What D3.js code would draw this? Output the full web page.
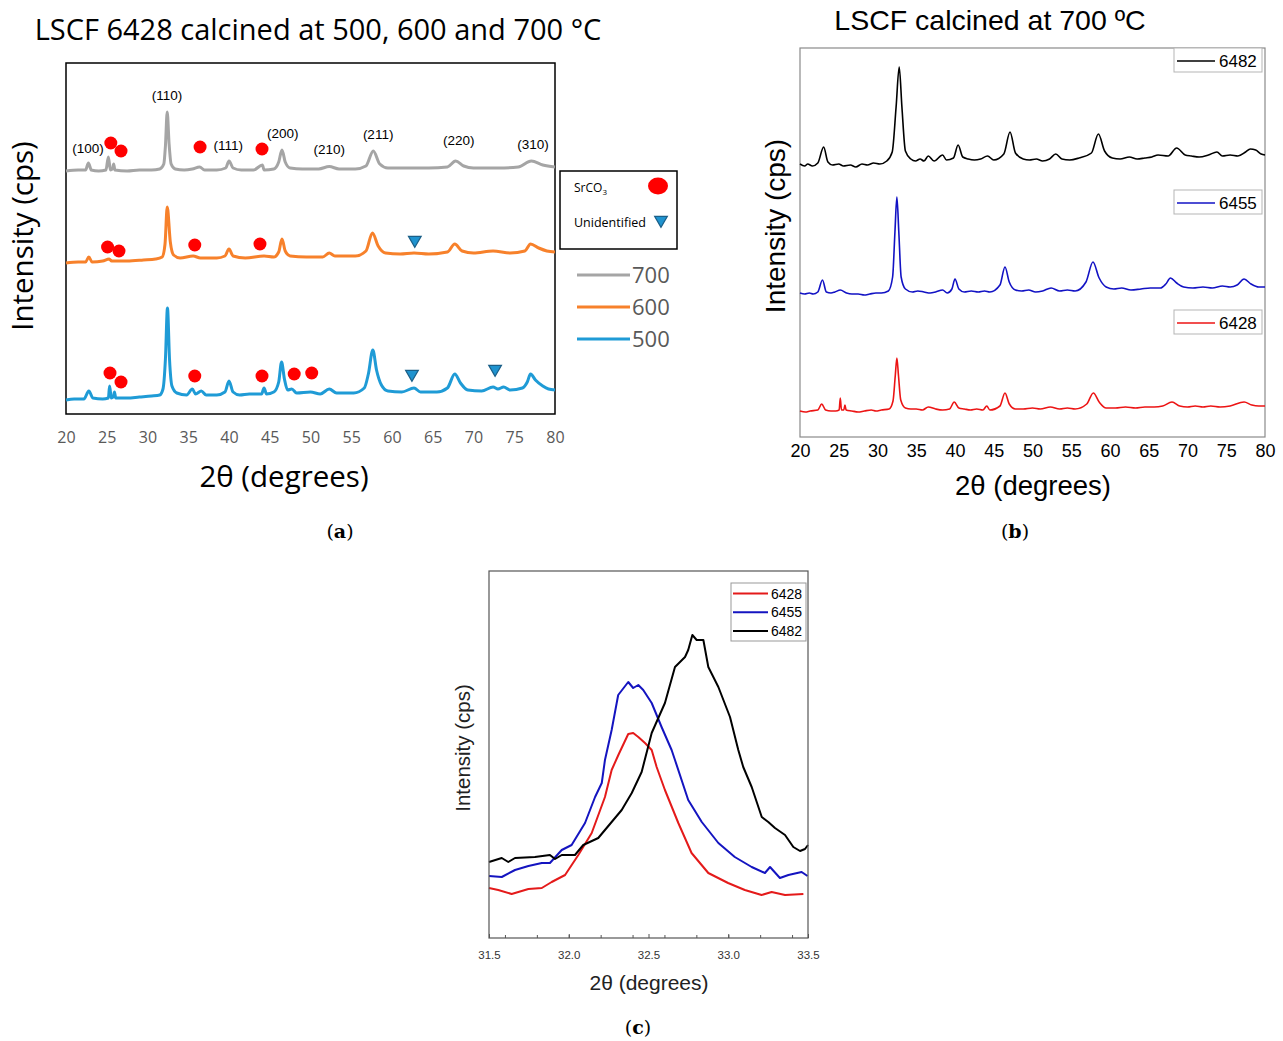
<!DOCTYPE html>
<html>
<head>
<meta charset="utf-8">
<script src="https://cdn.jsdelivr.net/npm/d3@7"></script>
<style>
body { margin: 0; background: #fff; }
</style>
</head>
<body>
<div id="chart"></div>
<script>
var width = 1283,
height = 1041;

// ---------- data, panel (a): LSCF 6428 at 500/600/700 C (2theta, intensity offset per trace)
var xTicksA = [20, 25, 30, 35, 40, 45, 50, 55, 60, 65, 70, 75, 80];
var tempLabels = ["700", "600", "500"];

var trace700 = [
	[20, 243], [21.5, 244], [22.4, 244], [22.75, 251], [23.1, 244], [24, 243], [24.9, 244], [25.2, 257], [25.45, 244],
	[25.7, 245], [25.85, 250], [26.0, 244], [27.5, 243], [29, 244], [30.5, 244], [31.5, 245], [32.0, 250], [32.2, 268],
	[32.42, 302], [32.65, 270], [32.9, 250], [33.4, 245], [34.5, 244], [35.5, 245], [36.4, 247], [37, 244], [38.5, 244],
	[39.6, 246], [40.0, 253], [40.5, 246], [41.5, 244], [43, 244], [44.1, 249], [44.3, 244], [45.5, 245], [46.1, 252],
	[46.5, 264], [46.9, 252], [47.5, 246], [49, 245], [51, 245], [52.3, 247.5], [53.5, 245], [55.5, 245], [56.8, 248],
	[57.7, 263], [58.5, 250], [59.5, 246], [62, 246], [64.5, 246], [66.8, 247], [67.8, 253], [68.8, 248], [70, 246],
	[73, 246], [75.5, 247], [77.1, 253], [78.5, 249], [80, 247]
];
var trace600 = [
	[20, 151], [21.5, 152], [22.4, 152], [22.8, 157], [23.2, 152], [24.5, 153], [25.3, 155], [25.6, 153], [27.5, 153],
	[29.5, 154], [31, 155], [31.8, 157], [32.15, 170], [32.42, 207], [32.8, 172], [33.2, 159], [34, 156], [35.6, 158],
	[36.5, 156], [38.5, 156], [39.5, 158], [40.0, 165], [40.5, 158], [42, 156], [44.3, 158], [45.5, 157], [46.1, 162],
	[46.5, 175], [46.9, 163], [47.5, 158], [49.5, 157], [51.5, 157], [52.3, 161], [53, 158], [55.5, 158], [56.8, 163],
	[57.6, 181], [58.3, 168], [59.2, 161], [61, 160], [62.7, 161], [64.5, 160], [66.8, 162], [67.7, 170], [68.6, 163],
	[70, 161], [72.4, 163], [74.5, 161], [76.3, 163], [77.0, 170], [78, 166], [79, 163], [80, 162]
];
var trace500 = [
	[20, 14], [21, 15], [22.2, 15], [22.8, 23], [23.3, 16], [24.5, 15], [25.2, 16], [25.35, 28], [25.55, 16], [25.8, 17],
	[25.95, 22], [26.1, 16], [27.5, 16], [29, 17], [30.5, 18], [31.5, 19], [31.9, 25], [32.2, 55], [32.45, 106], [32.7, 55],
	[33.0, 28], [33.6, 21], [34.8, 19], [35.5, 25], [35.9, 20], [36.6, 23], [37.2, 19], [38.5, 19], [39.5, 22], [40.0, 33],
	[40.5, 22], [41.3, 19], [42.5, 20], [44.0, 20], [44.3, 26], [44.6, 20], [45.5, 22], [46.1, 32], [46.45, 52], [46.8, 35],
	[47.2, 24], [47.7, 25], [48.3, 21], [50.0, 22], [51.2, 20], [52.3, 25], [53.2, 21], [55.3, 21], [56.6, 26], [57.1, 40],
	[57.65, 64], [58.1, 44], [58.7, 29], [59.5, 23], [61.2, 22], [62.7, 26], [63.5, 22], [65.5, 22], [66.8, 26], [67.7, 40],
	[68.4, 31], [69.3, 24], [71, 23], [72.4, 27], [73.0, 25], [73.7, 27], [74.5, 24], [76.0, 26], [76.6, 32], [77.0, 40],
	[77.6, 34], [78.5, 28], [79.2, 25], [80, 24]
];
var hklLabels = [
	{ text: "(100)", x: 22.7, y: 266 }, { text: "(110)", x: 32.4, y: 319 }, { text: "(111)", x: 39.9, y: 269 },
	{ text: "(200)", x: 46.6, y: 281 }, { text: "(210)", x: 52.3, y: 265 }, { text: "(211)", x: 58.3, y: 280 },
	{ text: "(220)", x: 68.2, y: 274 }, { text: "(310)", x: 77.3, y: 270 }
];
var srco3Marks = [
	[25.5, 271], [26.75, 263], [36.45, 267], [44.05, 265],
	[25.1, 167], [26.5, 163], [35.8, 169], [43.8, 170],
	[25.4, 41], [26.75, 32], [35.8, 38], [44.05, 38], [48.0, 40], [50.15, 41]
];
var unknownMarks = [[62.8, 174], [62.45, 40], [72.65, 45]];

// ---------- data, panel (b): LSCF 6482 / 6455 / 6428 at 700 C
var xTicksB = [20, 25, 30, 35, 40, 45, 50, 55, 60, 65, 70, 75, 80];
var sampleNames = ["6482", "6455", "6428"];

var trace6482 = [
	[20, 273], [20.6, 271], [21, 273], [21.6, 271], [22.3, 274], [23.05, 290], [23.6, 275], [24.2, 272], [25, 273], [25.6, 271],
	[26.5, 272], [27.2, 270], [28, 273], [28.7, 272], [29.5, 274], [30.3, 273], [31.2, 276], [31.9, 285], [32.4, 330], [32.8, 370],
	[33.15, 330], [33.6, 286], [34.3, 278], [34.9, 276], [35.5, 278], [36.0, 276], [36.55, 281], [37.3, 276], [38.4, 282],
	[38.9, 277], [39.8, 279], [40.4, 292], [41.0, 280], [41.7, 278], [42.5, 277], [43.3, 278], [44.2, 281], [45, 277],
	[46.3, 283], [47.1, 305], [47.8, 284], [48.8, 278], [49.6, 277], [50.5, 278], [51.3, 276], [52.2, 278], [53.0, 283], [53.8, 278],
	[54.8, 277], [56, 279], [57.6, 284], [58.5, 303], [59.3, 286], [60.3, 279], [61.3, 278], [62.5, 280], [63.5, 278], [64.5, 279],
	[65.4, 280], [66.2, 282], [67.5, 281], [68.6, 289], [69.7, 282], [70.5, 281], [71.5, 280], [72.7, 282], [73.8, 285], [74.5, 281],
	[75.5, 282], [76.5, 281], [77.5, 285], [78.1, 288], [78.8, 287], [79.5, 283], [80, 282]
];
var trace6455 = [
	[20, 144], [20.6, 143], [21.2, 144], [21.7, 143], [22.3, 145], [22.9, 157], [23.4, 145], [24.0, 144], [24.5, 145], [25.2, 147],
	[26, 144], [26.7, 143], [27.5, 143], [28.3, 142], [29, 143], [29.8, 144], [30.5, 144], [31.4, 146], [31.95, 160], [32.25, 205],
	[32.5, 240], [32.75, 205], [33.05, 160], [33.6, 148], [34.5, 145], [35.2, 146], [36, 145], [36.8, 144], [37.5, 145],
	[38.4, 147], [39.0, 144], [39.6, 148], [40.0, 158], [40.5, 148], [41.2, 145], [42.1, 146], [43, 145], [43.8, 146], [44.5, 145],
	[45.8, 152], [46.45, 170], [47.0, 155], [47.8, 147], [48.6, 146], [49.5, 147], [50.4, 145], [51.3, 146], [52.4, 149],
	[53.5, 146], [54.5, 147], [55.5, 146], [56.9, 155], [57.8, 175], [58.6, 159], [59.5, 150], [60.5, 148], [61.5, 149],
	[62.7, 147], [64, 148], [65.2, 149], [66.5, 149], [67.2, 153], [67.8, 159], [68.6, 154], [69.5, 150], [70.7, 149], [72, 150],
	[73.2, 149], [74.5, 151], [75.5, 150], [76.4, 152], [77.3, 158], [78.2, 153], [79.2, 150], [80, 150]
];
var trace6428 = [
	[20, 26], [20.7, 25], [21.3, 26], [22.3, 27], [22.8, 33], [23.3, 27], [24.0, 26], [24.6, 26], [25.05, 27], [25.2, 39],
	[25.35, 27], [25.65, 27], [25.8, 32], [25.95, 27], [26.7, 26], [27.5, 25], [28.3, 26], [29.2, 27], [29.8, 26], [30.5, 27],
	[31.5, 28], [32.0, 36], [32.3, 62], [32.5, 79], [32.7, 62], [33.0, 37], [33.6, 29], [34.3, 28], [35, 28], [35.8, 27],
	[36.55, 30], [37.5, 28], [38.4, 27], [39.3, 28], [39.9, 35], [40.5, 29], [41.2, 28], [42, 27], [42.8, 28], [43.6, 27],
	[44.1, 31], [44.5, 27], [45.8, 31], [46.45, 44], [47.0, 33], [47.8, 28], [48.8, 28], [50, 29], [51, 28], [52.3, 30],
	[53.5, 28], [54.5, 29], [55.5, 28], [57.0, 33], [57.85, 44], [58.6, 35], [59.5, 29], [60.7, 29], [62, 30], [63.3, 29],
	[64.5, 30], [65.7, 30], [66.8, 31], [68.0, 35], [69, 31], [70, 30], [71, 31], [72, 30], [73, 31], [74.2, 30], [75.5, 31],
	[77.3, 35], [78.3, 32], [79.2, 31], [80, 31]
];

// ---------- data, panel (c): zoom on the (110) peak
var xTicksC = [31.5, 32.0, 32.5, 33.0, 33.5];
var peak6428 = [
	[31.5, 50], [31.558, 48], [31.642, 44], [31.747, 49], [31.831, 50], [31.893, 56], [31.977, 63], [32.06, 83], [32.144, 105],
	[32.227, 141], [32.269, 168], [32.311, 183], [32.373, 204], [32.404, 205], [32.436, 201], [32.478, 195], [32.52, 188],
	[32.551, 171], [32.603, 148], [32.687, 115], [32.77, 85], [32.875, 65], [32.999, 55], [33.104, 48], [33.209, 43],
	[33.272, 46], [33.356, 43], [33.471, 44]
];
var peak6455 = [
	[31.5, 62], [31.58, 61], [31.663, 68], [31.747, 72], [31.831, 75], [31.882, 75], [31.956, 88], [32.018, 93], [32.102, 115],
	[32.165, 141], [32.207, 155], [32.227, 178], [32.269, 208], [32.31, 243], [32.373, 256], [32.404, 250], [32.436, 253],
	[32.467, 248], [32.52, 235], [32.582, 211], [32.645, 188], [32.666, 178], [32.749, 138], [32.834, 116], [32.938, 95],
	[33.041, 81], [33.147, 71], [33.23, 65], [33.262, 71], [33.324, 60], [33.377, 63], [33.46, 66], [33.497, 62]
];
var peak6482 = [
	[31.5, 76], [31.58, 80], [31.621, 76], [31.663, 80], [31.788, 81], [31.882, 83], [31.914, 79], [31.956, 83], [32.039, 83],
	[32.091, 93], [32.185, 100], [32.269, 116], [32.332, 128], [32.395, 145], [32.457, 166], [32.52, 205], [32.603, 235],
	[32.666, 271], [32.729, 281], [32.749, 288], [32.775, 303], [32.802, 298], [32.844, 298], [32.875, 271], [32.938, 251],
	[33.011, 221], [33.063, 188], [33.094, 171], [33.147, 151], [33.21, 121], [33.251, 116], [33.293, 110], [33.356, 103],
	[33.408, 91], [33.45, 87], [33.481, 89], [33.5, 93]
];

var svg = d3.select("#chart")
.append("svg")
.attr("width", width)
.attr("height", height)
.style("font-family", "Arial, 'Liberation Sans', sans-serif");

var calibri = "'Open Sans', Lato, sans-serif";

// ================= panel (a) =================
var xA = d3.scaleLinear().domain([20, 80]).range([66, 555]);
var yA = d3.scaleLinear().domain([0, 351]).range([414, 63]);

var lineA = d3.line()
.x(function(d) { return xA(d[0]); })
.y(function(d) { return yA(d[1]); })
.curve(d3.curveMonotoneX);

svg.append("text")
.text("LSCF 6428 calcined at 500, 600 and 700 \u00B0C")
.attr("x", 318)
.attr("y", 40)
.attr("text-anchor", "middle")
.attr("font-family", calibri)
.attr("font-size", 29)
.attr("fill", "#000");

svg.append("rect")
.attr("x", 66).attr("y", 63)
.attr("width", 489).attr("height", 351)
.attr("fill", "none")
.attr("stroke", "#000")
.attr("stroke-width", 1.5);

var seriesA = [
	{ name: tempLabels[0], values: trace700, color: "#a5a5a5" },
	{ name: tempLabels[1], values: trace600, color: "#f7812b" },
	{ name: tempLabels[2], values: trace500, color: "#1f9bd6" }
];

svg.selectAll(".traceA")
.data(seriesA)
.enter()
.append("path")
.attr("class", "traceA")
.attr("d", function(d) { return lineA(d.values); })
.attr("fill", "none")
.attr("stroke", function(d) { return d.color; })
.attr("stroke-width", 3)
.attr("stroke-linejoin", "round");

var axisA = svg.append("g")
.attr("transform", "translate(0,432)")
.call(d3.axisBottom(xA).tickValues(xTicksA).tickSize(0).tickPadding(0));
axisA.select(".domain").remove();
axisA.selectAll("text")
.attr("font-family", calibri)
.attr("font-size", 16)
.attr("fill", "#595959");

svg.selectAll(".hkl")
.data(hklLabels)
.enter()
.append("text")
.attr("class", "hkl")
.text(function(d) { return d.text; })
.attr("x", function(d) { return xA(d.x); })
.attr("y", function(d) { return yA(d.y) + 5; })
.attr("text-anchor", "middle")
.attr("font-size", 13.5)
.attr("fill", "#000");

svg.selectAll(".srco3")
.data(srco3Marks)
.enter()
.append("circle")
.attr("class", "srco3")
.attr("cx", function(d) { return xA(d[0]); })
.attr("cy", function(d) { return yA(d[1]); })
.attr("r", 6.5)
.attr("fill", "#ff0000");

var tri = d3.symbol().type(d3.symbolTriangle).size(70);
svg.selectAll(".unknown")
.data(unknownMarks)
.enter()
.append("path")
.attr("class", "unknown")
.attr("d", tri)
.attr("transform", function(d) { return "translate(" + xA(d[0]) + "," + yA(d[1]) + ") rotate(180)"; })
.attr("fill", "#1f93cf")
.attr("stroke", "#1a5f88")
.attr("stroke-width", 1.2);

// marker legend
svg.append("rect")
.attr("x", 560).attr("y", 171)
.attr("width", 117).attr("height", 78)
.attr("fill", "#fff")
.attr("stroke", "#000")
.attr("stroke-width", 1.5);

var srText = svg.append("text")
.attr("x", 574).attr("y", 192)
.attr("font-family", calibri)
.attr("font-size", 12)
.attr("fill", "#000");
srText.append("tspan").text("SrCO");
srText.append("tspan").text("3").attr("font-size", 8).attr("dy", 3);

svg.append("ellipse")
.attr("cx", 658).attr("cy", 186)
.attr("rx", 10).attr("ry", 8.5)
.attr("fill", "#ff0000");

svg.append("text")
.text("Unidentified")
.attr("x", 574).attr("y", 227)
.attr("font-family", calibri)
.attr("font-size", 12.5)
.attr("fill", "#000");

svg.append("path")
.attr("d", tri)
.attr("transform", "translate(661,220) rotate(180)")
.attr("fill", "#1f93cf")
.attr("stroke", "#1a5f88")
.attr("stroke-width", 1.2);

// temperature legend
var legA = svg.selectAll(".legA")
.data(seriesA)
.enter()
.append("g")
.attr("class", "legA")
.attr("transform", function(d, i) { return "translate(577," + (275 + i * 32) + ")"; });
legA.append("line")
.attr("x1", 0).attr("x2", 53)
.attr("stroke", function(d) { return d.color; })
.attr("stroke-width", 3);
legA.append("text")
.text(function(d) { return d.name; })
.attr("x", 55).attr("y", 8)
.attr("font-family", calibri)
.attr("font-size", 22)
.attr("fill", "#595959");

svg.append("text")
.text("Intensity (cps)")
.attr("transform", "translate(33,236) rotate(-90)")
.attr("text-anchor", "middle")
.attr("font-family", calibri)
.attr("font-size", 29.5)
.attr("fill", "#000");

svg.append("text")
.text("2\u03B8 (degrees)")
.attr("x", 284).attr("y", 487)
.attr("text-anchor", "middle")
.attr("font-family", calibri)
.attr("font-size", 29.5)
.attr("fill", "#000");

// ================= panel (b) =================
var xB = d3.scaleLinear().domain([20, 80]).range([800, 1265]);
var yB = d3.scaleLinear().domain([0, 389]).range([437, 48]);

var lineB = d3.line()
.x(function(d) { return xB(d[0]); })
.y(function(d) { return yB(d[1]); })
.curve(d3.curveMonotoneX);

svg.append("text")
.text("LSCF calcined at 700 \u00BAC")
.attr("x", 990).attr("y", 30)
.attr("text-anchor", "middle")
.attr("font-size", 28.5)
.attr("fill", "#000");

svg.append("rect")
.attr("x", 800).attr("y", 48)
.attr("width", 465).attr("height", 389)
.attr("fill", "none")
.attr("stroke", "#8a8a8a")
.attr("stroke-width", 1.2);

var seriesB = [
	{ name: sampleNames[0], values: trace6482, color: "#000000", legY: 48 },
	{ name: sampleNames[1], values: trace6455, color: "#1212c4", legY: 190 },
	{ name: sampleNames[2], values: trace6428, color: "#ec1414", legY: 310 }
];

svg.selectAll(".traceB")
.data(seriesB)
.enter()
.append("path")
.attr("class", "traceB")
.attr("d", function(d) { return lineB(d.values); })
.attr("fill", "none")
.attr("stroke", function(d) { return d.color; })
.attr("stroke-width", 1.6)
.attr("stroke-linejoin", "round");

var legB = svg.selectAll(".legB")
.data(seriesB)
.enter()
.append("g")
.attr("class", "legB")
.attr("transform", function(d) { return "translate(1174," + d.legY + ")"; });
legB.append("rect")
.attr("width", 88).attr("height", 24)
.attr("fill", "#fff")
.attr("stroke", "#b5b5b5")
.attr("stroke-width", 1);
legB.append("line")
.attr("x1", 3).attr("x2", 41)
.attr("y1", 13).attr("y2", 13)
.attr("stroke", function(d) { return d.color; })
.attr("stroke-width", 1.5);
legB.append("text")
.text(function(d) { return d.name; })
.attr("x", 45).attr("y", 19)
.attr("font-size", 17)
.attr("fill", "#000");

var axisB = svg.append("g")
.attr("transform", "translate(0,444)")
.call(d3.axisBottom(xB).tickValues(xTicksB).tickSize(0).tickPadding(0));
axisB.select(".domain").remove();
axisB.selectAll("text")
.attr("font-family", "Arial, 'Liberation Sans', sans-serif")
.attr("font-size", 18)
.attr("fill", "#000");

svg.append("text")
.text("Intensity (cps)")
.attr("transform", "translate(785,226) rotate(-90)")
.attr("text-anchor", "middle")
.attr("font-size", 28)
.attr("fill", "#000");

svg.append("text")
.text("2\u03B8 (degrees)")
.attr("x", 1033).attr("y", 495)
.attr("text-anchor", "middle")
.attr("font-size", 27.5)
.attr("fill", "#000");

// ================= panel (c) =================
var xC = d3.scaleLinear().domain([31.5, 33.5]).range([489, 808]);
var yC = d3.scaleLinear().domain([0, 367]).range([938, 571]);

var lineC = d3.line()
.x(function(d) { return xC(d[0]); })
.y(function(d) { return yC(d[1]); });

var seriesC = [
	{ name: "6428", values: peak6428, color: "#e41a1a" },
	{ name: "6455", values: peak6455, color: "#1414c0" },
	{ name: "6482", values: peak6482, color: "#000000" }
];

svg.selectAll(".traceC")
.data(seriesC)
.enter()
.append("path")
.attr("class", "traceC")
.attr("d", function(d) { return lineC(d.values); })
.attr("fill", "none")
.attr("stroke", function(d) { return d.color; })
.attr("stroke-width", 2)
.attr("stroke-linejoin", "round");

svg.append("rect")
.attr("x", 489).attr("y", 571)
.attr("width", 319).attr("height", 367)
.attr("fill", "none")
.attr("stroke", "#555")
.attr("stroke-width", 1.2);

// minor ticks then major ticks, pointing inside
var axisCminor = svg.append("g")
.attr("transform", "translate(0,938)")
.call(d3.axisBottom(xC).ticks(8).tickSize(-3).tickFormat(""));
axisCminor.select(".domain").remove();
axisCminor.selectAll("line").attr("stroke", "#555");

var axisC = svg.append("g")
.attr("transform", "translate(0,938)")
.call(d3.axisBottom(xC).tickValues(xTicksC).tickSizeInner(-4).tickSizeOuter(0).tickPadding(13).tickFormat(d3.format(".1f")));
axisC.select(".domain").remove();
axisC.selectAll("line").attr("stroke", "#555");
axisC.selectAll("text")
.attr("font-family", "Arial, 'Liberation Sans', sans-serif")
.attr("font-size", 11.5)
.attr("fill", "#333");

svg.append("rect")
.attr("x", 731).attr("y", 583)
.attr("width", 75).attr("height", 58)
.attr("fill", "#fff")
.attr("stroke", "#999")
.attr("stroke-width", 1);

var legC = svg.selectAll(".legC")
.data(seriesC)
.enter()
.append("g")
.attr("class", "legC")
.attr("transform", function(d, i) { return "translate(732," + (593.5 + i * 18.8) + ")"; });
legC.append("line")
.attr("x1", 1).attr("x2", 36)
.attr("stroke", function(d) { return d.color; })
.attr("stroke-width", 2);
legC.append("text")
.text(function(d) { return d.name; })
.attr("x", 39).attr("y", 5)
.attr("font-size", 14)
.attr("fill", "#000");

svg.append("text")
.text("Intensity (cps)")
.attr("transform", "translate(470,748) rotate(-90)")
.attr("text-anchor", "middle")
.attr("font-size", 20.5)
.attr("fill", "#222");

svg.append("text")
.text("2\u03B8 (degrees)")
.attr("x", 649).attr("y", 990)
.attr("text-anchor", "middle")
.attr("font-size", 21)
.attr("fill", "#222");

// ================= sub-figure captions =================
var captions = [
	{ letter: "a", x: 340, y: 538 },
	{ letter: "b", x: 1015, y: 538 },
	{ letter: "c", x: 638, y: 1034 }
];
var cap = svg.selectAll(".caption")
.data(captions)
.enter()
.append("text")
.attr("class", "caption")
.attr("x", function(d) { return d.x; })
.attr("y", function(d) { return d.y; })
.attr("text-anchor", "middle")
.attr("font-family", "'DejaVu Serif', 'Liberation Serif', serif")
.attr("font-size", 19)
.attr("fill", "#000");
cap.append("tspan").text("(");
cap.append("tspan").text(function(d) { return d.letter; }).attr("font-weight", "bold");
cap.append("tspan").text(")");
</script>
</body>
</html>
